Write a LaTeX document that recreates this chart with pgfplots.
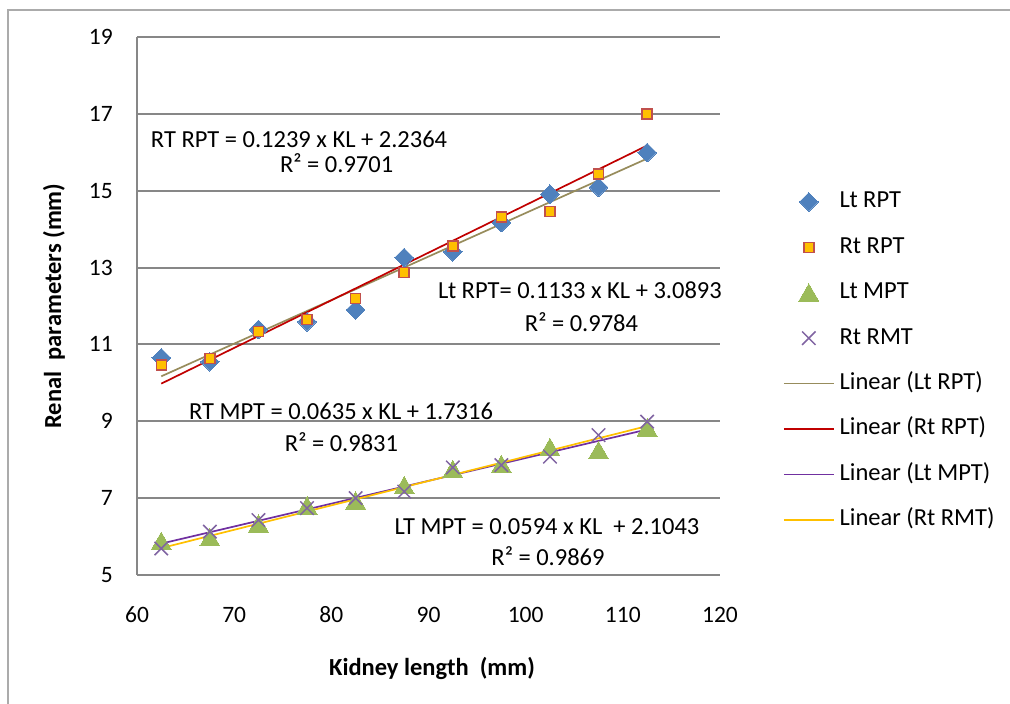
\documentclass[border=0pt]{standalone}
\usepackage{fontspec}
\setmainfont{Carlito}
\usepackage{pgfplots}
\pgfplotsset{compat=1.18}

\definecolor{ltrpt}{HTML}{4F81BD}
\definecolor{rtrptfill}{HTML}{FFC000}
\definecolor{rtrptedge}{HTML}{C0504D}
\definecolor{ltmpt}{HTML}{9BBB59}
\definecolor{rtrmt}{HTML}{8064A2}
\definecolor{fitltrpt}{HTML}{978C5C}
\definecolor{fitrtrpt}{HTML}{C00000}
\definecolor{fitltmpt}{HTML}{7030A0}
\definecolor{fitrtrmt}{HTML}{FFC000}
\definecolor{gridgray}{HTML}{878787}

\newcommand{\chartfont}{\fontsize{24.5}{29}\selectfont}

% Kidney length (mm) against renal parameters (mm)
\pgfplotstableread{
KL     LtRPT  RtRPT  LtMPT  RtRMT
62.5   10.65  10.46  5.88   5.69
67.5   10.55  10.64  5.97   6.13
72.5   11.39  11.33  6.33   6.43
77.5   11.59  11.65  6.80   6.74
82.5   11.90  12.20  6.93   7.00
87.5   13.26  12.87  7.33   7.17
92.5   13.41  13.56  7.75   7.80
97.5   14.17  14.31  7.88   7.86
102.5  14.91  14.46  8.32   8.08
107.5  15.09  15.44  8.24   8.64
112.5  15.99  17.00  8.83   8.99
}\renaldata

\begin{document}
\begin{tikzpicture}
\useasboundingbox (0,0) rectangle (1010pt,704pt);
% chart area frame
\draw[gridgray!70, line width=2pt] (8pt,-5pt) -- (8pt,694pt) -- (1015pt,694pt);
\begin{axis}[
  at={(137pt,129pt)}, anchor=south west,
  scale only axis, width=583pt, height=538pt,
  xmin=60, xmax=120, ymin=5, ymax=19,
  xtick={60,70,...,120}, ytick={5,7,...,19},
  axis x line*=bottom, axis y line*=left,
  axis line style={gridgray, line width=2pt, -},
  ymajorgrids, grid style={gridgray, line width=2pt},
  major tick length=0pt,
  /pgf/number format/assume math mode=true,
  tick label style={font=\fontsize{23.5}{28}\selectfont, inner sep=0pt},
  xticklabel style={anchor=base, yshift=-48pt},
  yticklabel style={anchor=east, xshift=-24pt},
  xlabel={Kidney length\ \ (mm)},
  ylabel={Renal\ \ parameters (mm)},
  every axis x label/.style={at={(axis description cs:0.506,-0.1729)}, anchor=center, font=\bfseries\chartfont},
  every axis y label/.style={at={(axis description cs:-0.1424,0.5)}, anchor=center, rotate=90, font=\bfseries\chartfont},
  legend style={at={(axis description cs:1.108,0.7138)}, anchor=north west,
    draw=none, fill=none, inner sep=0pt, outer sep=0pt,
    row sep=23.4pt, column sep=5pt, font=\chartfont,
    nodes={inner sep=0pt, text height=17pt, text depth=5pt}},
  legend cell align=left,
  legend image code/.code={\draw[mark repeat=2,mark phase=2,#1] plot coordinates {(0pt,0pt) (25pt,0pt) (50pt,0pt)};},
  clip=false,
]
% measured values
\addplot[only marks, mark=square*, mark size=6.6pt, mark options={rotate=45, fill=ltrpt, draw=ltrpt, line width=0pt}] table[x=KL, y=LtRPT] {\renaldata};
\addlegendentry{Lt RPT}
\addplot[only marks, mark=square*, mark size=5pt, mark options={fill=rtrptfill, draw=rtrptedge, line width=1.5pt}] table[x=KL, y=RtRPT] {\renaldata};
\addlegendentry{Rt RPT}
\addplot[only marks, mark=triangle*, mark size=11.5pt, mark options={fill=ltmpt, draw=ltmpt, line width=0pt, yshift=-2.5pt}] table[x=KL, y=LtMPT] {\renaldata};
\addlegendentry{Lt MPT}
\addplot[only marks, mark=x, mark size=9.5pt, mark options={draw=rtrmt, line width=1.5pt}] table[x=KL, y=RtRMT] {\renaldata};
\addlegendentry{Rt RMT}
% least-squares trend lines, end points from the fitted equations
\addplot[fitltrpt, line width=1.7pt, no marks] coordinates {(62.5,10.17055) (112.5,15.83555)};
\addlegendentry{Linear (Lt RPT)}
\addplot[fitrtrpt, line width=1.7pt, no marks] coordinates {(62.5,9.98015) (112.5,16.17515)};
\addlegendentry{Linear (Rt RPT)}
\addplot[fitltmpt, line width=1.7pt, no marks] coordinates {(62.5,5.8168) (112.5,8.7868)};
\addlegendentry{Linear (Lt MPT)}
\addplot[fitrtrmt, line width=1.7pt, no marks] coordinates {(62.5,5.70035) (112.5,8.87535)};
\addlegendentry{Linear (Rt RMT)}
% fitted equations
\begin{scope}[every node/.style={font=\chartfont, inner sep=0pt, anchor=center}]
\node at (axis cs:76.68,16.35) {RT RPT = 0.1239 x KL + 2.2364};
\node at (axis cs:80.55,15.73) {R² = 0.9701};
\node at (axis cs:105.59,12.42) {Lt RPT= 0.1133 x KL + 3.0893};
\node at (axis cs:105.75,11.59) {R² = 0.9784};
\node at (axis cs:81.0,9.25) {RT MPT = 0.0635 x KL + 1.7316};
\node at (axis cs:81.05,8.47) {R² = 0.9831};
\node at (axis cs:102.2,6.26) {LT MPT = 0.0594 x KL\ \ + 2.1043};
\node at (axis cs:102.3,5.48) {R² = 0.9869};
\end{scope}
\end{axis}
\end{tikzpicture}
\end{document}
